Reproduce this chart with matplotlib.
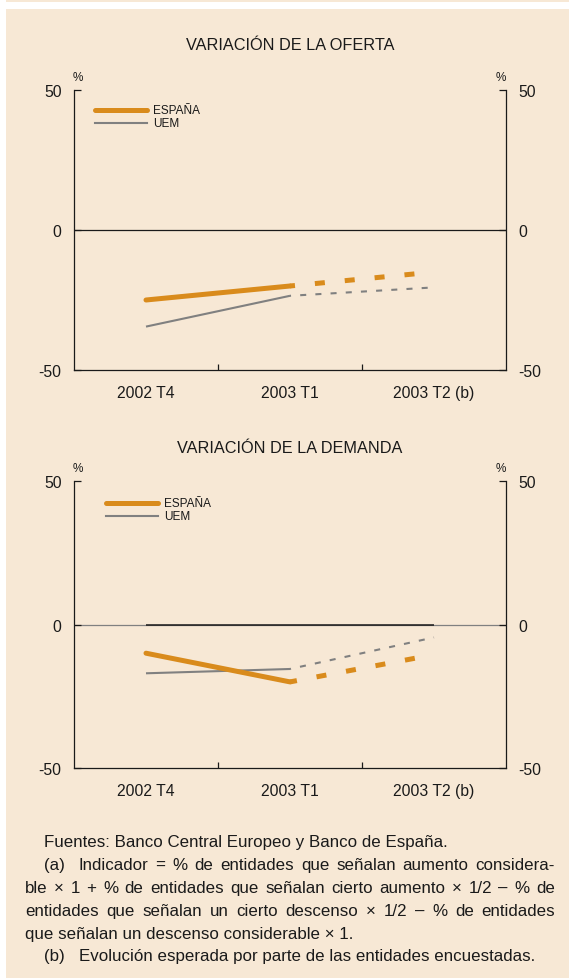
import matplotlib
matplotlib.use("Agg")
import matplotlib.pyplot as plt
from matplotlib.lines import Line2D
from matplotlib.patches import Rectangle

plt.rcParams['font.family'] = ['Liberation Sans', 'DejaVu Sans']

# ---------------- data ----------------
categories = ["2002 T4", "2003 T1", "2003 T2 (b)"]
oferta_espana = [-25, -20, -15]
oferta_uem = [-34.5, -23.5, -20.5]
demanda_espana = [-10, -20, -10.5]
demanda_uem = [-17, -15.5, -4.5]
y_ticks = [-50, 0, 50]
series_names = ["ESPAÑA", "UEM"]
titles = ["VARIACIÓN DE LA OFERTA", "VARIACIÓN DE LA DEMANDA"]

footnotes = [
    ("Fuentes: Banco Central Europeo y Banco de España.", 44, False),
    ("(a) Indicador = % de entidades que señalan aumento considera-", 44, True),
    ("ble × 1 + % de entidades que señalan cierto aumento × 1/2 – % de", 25, True),
    ("entidades que señalan un cierto descenso × 1/2 – % de entidades", 25, True),
    ("que señalan un descenso considerable × 1.", 25, False),
    ("(b) Evolución esperada por parte de las entidades encuestadas.", 44, False),
]

# ---------------- style ----------------
W, H = 569, 979
BG = "#F7E8D5"
ORANGE = "#D98B1C"
GRAY = "#808080"
DARK = "#1a1a1a"
FS = 11.3
TFS = 11.7

fig = plt.figure(figsize=(W / 100, H / 100), dpi=100)
fig.patch.set_facecolor("white")

def fx(px):
    return px / W

def fy(py):
    return 1 - py / H

# background panels
fig.add_artist(Rectangle((fx(6), fy(3)), fx(W - 6), 3 / H, transform=fig.transFigure,
                         facecolor=BG, edgecolor="none", zorder=-10))
fig.add_artist(Rectangle((fx(6), 0), fx(W - 6), fy(10), transform=fig.transFigure,
                         facecolor=BG, edgecolor="none", zorder=-10))

x = [0.5, 1.5, 2.5]


def make_panel(top, bottom, esp, uem, title, title_y, legend_x0, legend_y, dash_off_esp,
               dash_off_uem, gray_zero_ends):
    ax = fig.add_axes([fx(74), fy(bottom), fx(506) - fx(74), (bottom - top) / H])
    ax.set_facecolor("none")
    ax.set_xlim(0, 3)
    ax.set_ylim(-50, 50)
    for s in ["left", "right", "bottom"]:
        ax.spines[s].set_linewidth(0.9)
        ax.spines[s].set_color(DARK)
    ax.spines["top"].set_visible(False)

    # x axis: labels at category centres, tick marks at category boundaries
    ax.set_xticks(x)
    ax.set_xticklabels(categories, fontsize=FS, color=DARK)
    ax.tick_params(axis="x", which="major", length=0, pad=11)
    ax.set_xticks([1, 2], minor=True)
    ax.tick_params(axis="x", which="minor", direction="in", length=4, width=0.9, color=DARK)

    ax.set_yticks(y_ticks)
    ax.set_yticklabels([str(v) for v in y_ticks], fontsize=FS, color=DARK)
    ax.tick_params(axis="y", direction="in", length=5, width=0.9, color=DARK, pad=9,
                   left=True, right=True, labelleft=True, labelright=True)

    # zero line
    if gray_zero_ends:
        ax.axhline(0, color=GRAY, lw=0.9, zorder=1)
        ax.hlines(0, x[0], x[-1], color=DARK, lw=1.1, zorder=1.5)
    else:
        ax.axhline(0, color=DARK, lw=0.9, zorder=1)

    # series
    ax.plot(x[:2], uem[:2], color=GRAY, lw=1.5, solid_capstyle="butt", zorder=3)
    ax.plot(x[1:], uem[1:], color=GRAY, lw=1.5, linestyle=(dash_off_uem, (2.9, 4.4)),
            dash_capstyle="butt", zorder=3)
    ax.plot(x[:2], esp[:2], color=ORANGE, lw=3.6, solid_capstyle="round",
            solid_joinstyle="round", zorder=4)
    ax.plot(x[1:], esp[1:], color=ORANGE, lw=3.6, linestyle=(dash_off_esp, (2, 4)),
            dash_capstyle="butt", zorder=4)

    # % marks
    fig.text(fx(73), fy(top - 13), "%", fontsize=8.5, color=DARK, ha="left", va="center")
    fig.text(fx(506), fy(top - 13), "%", fontsize=8.5, color=DARK, ha="right", va="center")

    # title
    fig.text(fx(290), fy(title_y), title, fontsize=TFS, color=DARK, ha="center", va="center")

    # legend
    lx0, lx1 = legend_x0, legend_x0 + 52
    fig.add_artist(Line2D([fx(lx0), fx(lx1)], [fy(legend_y), fy(legend_y)],
                          transform=fig.transFigure, color=ORANGE, lw=3.6,
                          solid_capstyle="round"))
    fig.add_artist(Line2D([fx(lx0), fx(lx1)], [fy(legend_y + 13), fy(legend_y + 13)],
                          transform=fig.transFigure, color=GRAY, lw=1.5))
    fig.text(fx(lx1 + 6), fy(legend_y), series_names[0], fontsize=8.5, color=DARK,
             ha="left", va="center")
    fig.text(fx(lx1 + 6), fy(legend_y + 13), series_names[1], fontsize=8.5, color=DARK,
             ha="left", va="center")
    return ax


make_panel(91, 371, oferta_espana, oferta_uem, titles[0], 45, 95, 111, 1.0, 2.4, False)
make_panel(482, 769, demanda_espana, demanda_uem, titles[1], 449, 106, 504, 0.6, 2.4, True)

# ---------------- footnotes (justified) ----------------
renderer = fig.canvas.get_renderer()
FN_FS = 12.2
RIGHT = 555
line_y = [847, 870, 893, 916, 939, 961]   # baselines (px from top)
LABEL_GAP = 14

for (txt, x0, justify), yy in zip(footnotes, line_y):
    tokens = txt.split(" ")
    lead = None
    if tokens[0] in ("(a)", "(b)"):
        lead = tokens[0]
        tokens = [" ".join(tokens[1:])] if not justify else tokens[1:]
    pos = x0
    if lead is not None:
        a = fig.text(fx(pos), fy(yy), lead, fontsize=FN_FS, color=DARK, ha="left",
                     va="baseline")
        pos += a.get_window_extent(renderer).width + LABEL_GAP
    if not justify:
        fig.text(fx(pos), fy(yy), " ".join(tokens), fontsize=FN_FS, color=DARK,
                 ha="left", va="baseline")
        continue
    arts = [fig.text(0, fy(yy), w, fontsize=FN_FS, color=DARK, ha="left", va="baseline")
            for w in tokens]
    widths = [a.get_window_extent(renderer).width for a in arts]
    free = (RIGHT - pos) - sum(widths)
    unit = free / (len(tokens) - 1)
    for i, a in enumerate(arts):
        a.set_x(fx(pos))
        pos += widths[i] + unit

fig.savefig("out.png", dpi=100, facecolor=fig.get_facecolor())
